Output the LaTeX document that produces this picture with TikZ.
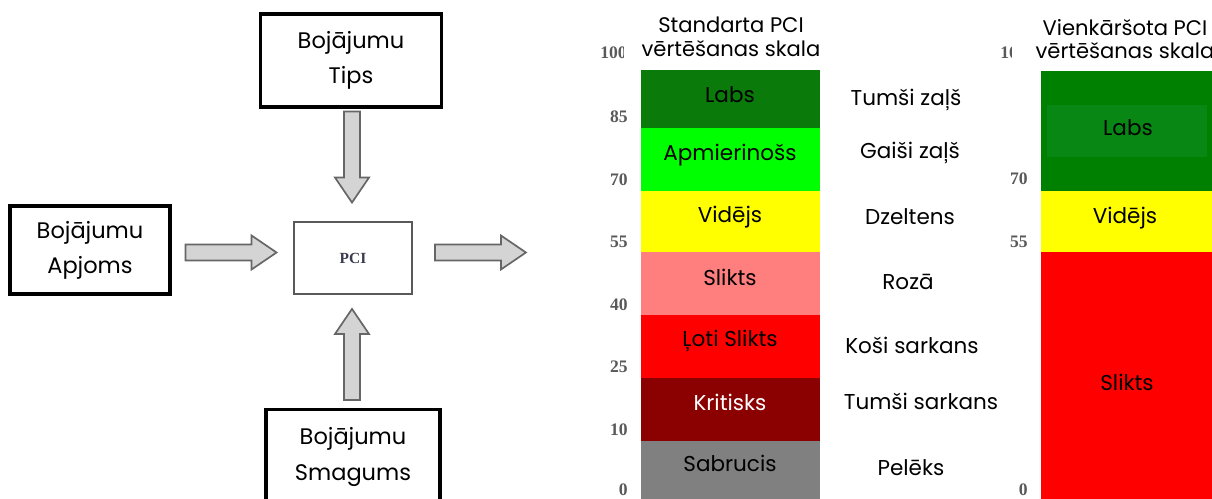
\documentclass[tikz,border=0pt]{standalone}
\usepackage{fontspec}
\setmainfont{Poppins}
\newfontfamily\axisfont{Liberation Serif}
\usetikzlibrary{calc}

\definecolor{pcitext}{RGB}{60,60,80}
\definecolor{labsgreen}{RGB}{10,122,10}
\definecolor{apmgreen}{RGB}{0,255,0}
\definecolor{vidyellow}{RGB}{255,255,0}
\definecolor{sliktspink}{RGB}{255,127,127}
\definecolor{lotired}{RGB}{255,0,0}
\definecolor{kritred}{RGB}{139,0,0}
\definecolor{sabrgray}{RGB}{128,128,128}
\definecolor{simpgreen}{RGB}{0,128,0}
\definecolor{simplabs}{RGB}{8,135,20}

\tikzset{
  dmgbox/.style={draw=black, line width=2.2pt, align=center, inner sep=0pt,
    font=\fontsize{16}{25}\selectfont},
  pcibox/.style={draw=black!65, line width=1.3pt, minimum width=2.95cm,
    minimum height=1.8cm, text=pcitext,
    font=\axisfont\bfseries\fontsize{11}{12}\selectfont},
  arrowline/.style={draw=black!60, fill=black!17, line width=1.2pt,
    line join=miter},
  blkarrow/.pic={
    \path[arrowline] (0,-8) -- (66,-8) -- (66,-17) -- (91,0) -- (66,17)
      -- (66,8) -- (0,8) -- cycle;
  },
  seglabel/.style={inner sep=0pt, font=\fontsize{15.3}{17}\selectfont},
  colname/.style={inner sep=0pt, font=\fontsize{15.3}{17}\selectfont},
  scaletitle/.style={align=center, inner sep=0pt,
    font=\fontsize{15}{16.8}\selectfont},
  tick/.style={inner sep=0pt, text=black!65,
    font=\axisfont\bfseries\fontsize{12.5}{13}\selectfont},
}

\begin{document}
\begin{tikzpicture}[x=0.025cm, y=-0.025cm]
  \useasboundingbox (0,0) rectangle (1212,499);
  \clip (0,0) rectangle (1212,499);

  % input boxes and PCI
  \node[dmgbox, minimum width=4.525cm, minimum height=2.325cm] (tips)
    at (351,60.5) {Bojājumu\\Tips};
  \node[dmgbox, minimum width=4cm, minimum height=2.2cm] (apj)
    at (90,250) {Bojājumu\\Apjoms};
  \node[dmgbox, minimum width=4.35cm, minimum height=2.375cm] (smag)
    at (353,457) {Bojājumu\\Smagums};
  \node[pcibox] (pci) at (353,258) {PCI};

  % block arrows
  \pic[rotate=-90] at ($(tips.south)+(1,3)$) {blkarrow};
  \pic[rotate=90] at ($(smag.north)+(-1,-8)$) {blkarrow};
  \pic at ($(apj.east)+(14,2.5)$) {blkarrow};
  \coordinate (out) at ($(pci.east)+(22,-5.5)$);
  \pic at (out) {blkarrow};

  % standard scale
  \node[scaletitle] (stdtitle) at (731,37) {Standarta PCI\\vērtēšanas skala};
  \foreach \top/\bot/\col/\lab/\ly/\tc [count=\i] in {
      70/128/labsgreen/Labs/95/black,
      128/191/apmgreen/Apmierinošs/155/black,
      191/252/vidyellow/Vidējs/217/black,
      252/315/sliktspink/Slikts/277/black,
      315/378/lotired/Ļoti Slikts/341/black,
      378/441/kritred/Kritisks/402/white,
      441/505/sabrgray/Sabrucis/463/black}
  {
    \fill[\col] (641,\top) rectangle (820,\bot);
    \node[seglabel, text=\tc] (seg\i) at (730,\ly) {\lab};
  }
  \foreach \nm/\nx/\ny [count=\i] in {Tumši zaļš/906/100, Gaiši zaļš/910/153,
      Dzeltens/910/217, Rozā/908/282, Koši sarkans/912/345,
      Tumši sarkans/921/401, Pelēks/911/468}
    \node[colname] (col\i) at (\nx,\ny) {\nm};
  \foreach \v/\ty [count=\i] in {85/117, 70/180, 55/242, 40/305, 25/367,
      10/430, 0/490}
    \node[tick, anchor=east] (stick\i) at (628,\ty) {\v};
  \begin{scope}
    \clip (590,40) rectangle (623,66);
    \node[tick, anchor=west] (stick0) at (600,53) {100};
  \end{scope}

  % simplified scale
  \node[scaletitle] (simptitle) at (1125,39) {Vienkāršota PCI\\vērtēšanas skala};
  \fill[simpgreen] (1041,71) rectangle (1220,191);
  \fill[simplabs] (1047,105) rectangle (1207,157);
  \fill[vidyellow] (1041,191) rectangle (1220,252);
  \fill[lotired] (1041,252) rectangle (1220,505);
  \node[seglabel] (slabs) at (1128,128) {Labs};
  \node[seglabel] (svid) at (1125,218) {Vidējs};
  \node[seglabel] (sslikts) at (1127,382) {Slikts};
  \foreach \v/\ty [count=\i] in {70/179, 55/242, 0/490}
    \node[tick, anchor=east] (rtick\i) at (1028,\ty) {\v};
  \begin{scope}
    \clip (990,40) rectangle (1011,66);
    \node[tick, anchor=west] (rtick0) at (1000,53) {100};
  \end{scope}
\end{tikzpicture}
\end{document}
